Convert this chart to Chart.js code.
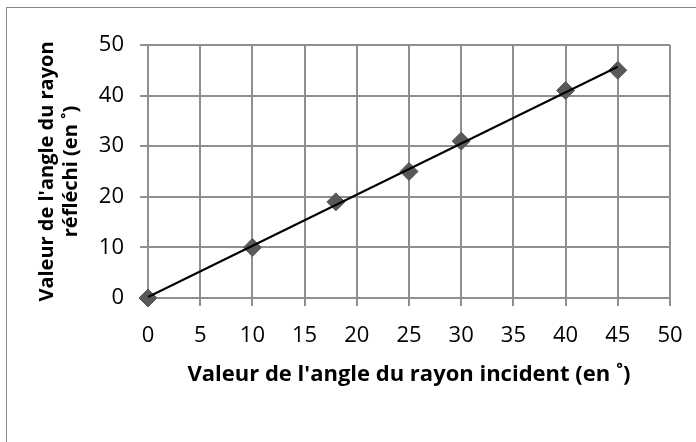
<!DOCTYPE html>
<html>
<head>
<meta charset="utf-8">
<script src="https://cdn.jsdelivr.net/npm/chart.js@4"></script>
<style>
  html, body { margin: 0; padding: 0; background: #fff; }
  #box { width: 696px; height: 442px; }
</style>
</head>
<body>
<div id="box"><canvas id="angle-chart"></canvas></div>
<script>
// measured points
const incidentAngles = [0, 10, 18, 25, 30, 40, 45];
const reflectedAngles = [0, 10, 19, 25, 31, 41, 45];

// linear trendline, ends
const trendX = [0, 45];
const trendY = [0.2, 45.7];

const xTitle = "Valeur de l'angle du rayon incident (en ˚)";
const yTitle = ["Valeur de l'angle du rayon", "réfléchi (en ˚)"];

const gridColor = '#8f8f8f';

const frame = {
    id: 'frame',
    beforeDraw(chart) {
        const ctx = chart.ctx;
        ctx.save();
        ctx.fillStyle = '#fff';
        ctx.fillRect(0, 0, chart.width, chart.height);
        ctx.strokeStyle = '#8a8a8a';
        ctx.lineWidth = 1;
        ctx.strokeRect(6.5, 7.5, 800, 800);
        ctx.restore();
    }
};

const chartCanvas = document.getElementById("angle-chart");

new Chart(chartCanvas, {
    type: 'scatter',
    data: {
        datasets: [{
            type: 'line',
            label: 'Linéaire',
            data: trendX.map((x, i) => ({ x: x, y: trendY[i] })),
            borderColor: '#000',
            borderWidth: 2,
            pointRadius: 0,
            fill: false,
            clip: false
        }, {
            label: 'Angle réfléchi',
            data: incidentAngles.map((x, i) => ({ x: x, y: reflectedAngles[i] })),
            pointStyle: 'rectRot',
            pointRadius: 9,
            pointHoverRadius: 9,
            backgroundColor: '#595959',
            borderColor: '#595959',
            borderWidth: 1,
            clip: false
        }]
    },
    options: {
        responsive: true,
        maintainAspectRatio: false,
        animation: false,
        layout: {
            padding: { left: 0, top: 45, right: 26, bottom: 0 }
        },
        plugins: {
            legend: { display: false },
            tooltip: { enabled: false }
        },
        scales: {
            x: {
                type: 'linear',
                min: 0,
                max: 50,
                afterFit: (s) => {
                    s.height = 144;
                    s.paddingLeft = 0;
                    s.paddingRight = 0;
                },
                ticks: {
                    stepSize: 5,
                    padding: 17,
                    color: '#000',
                    font: { family: 'Open Sans', size: 22 }
                },
                grid: { color: gridColor, lineWidth: 2, tickLength: 8 },
                border: { color: gridColor, width: 2 },
                title: {
                    display: true,
                    text: xTitle,
                    color: '#000',
                    font: { family: 'Open Sans', size: 22, weight: 'bold' },
                    padding: { top: 0, bottom: 54 }
                }
            },
            y: {
                type: 'linear',
                min: 0,
                max: 50,
                afterFit: (s) => {
                    s.width = 148;
                    s.paddingTop = 0;
                    s.paddingBottom = 0;
                },
                ticks: {
                    stepSize: 10,
                    padding: 16,
                    color: '#000',
                    font: { family: 'Open Sans', size: 22 }
                },
                grid: { color: gridColor, lineWidth: 2, tickLength: 8 },
                border: { color: gridColor, width: 2 },
                title: {
                    display: true,
                    text: yTitle,
                    color: '#000',
                    font: { family: 'Open Sans', size: 20, weight: 'bold' },
                    padding: { top: 35, bottom: 0 }
                }
            }
        }
    },
    plugins: [frame]
});
</script>
</body>
</html>
